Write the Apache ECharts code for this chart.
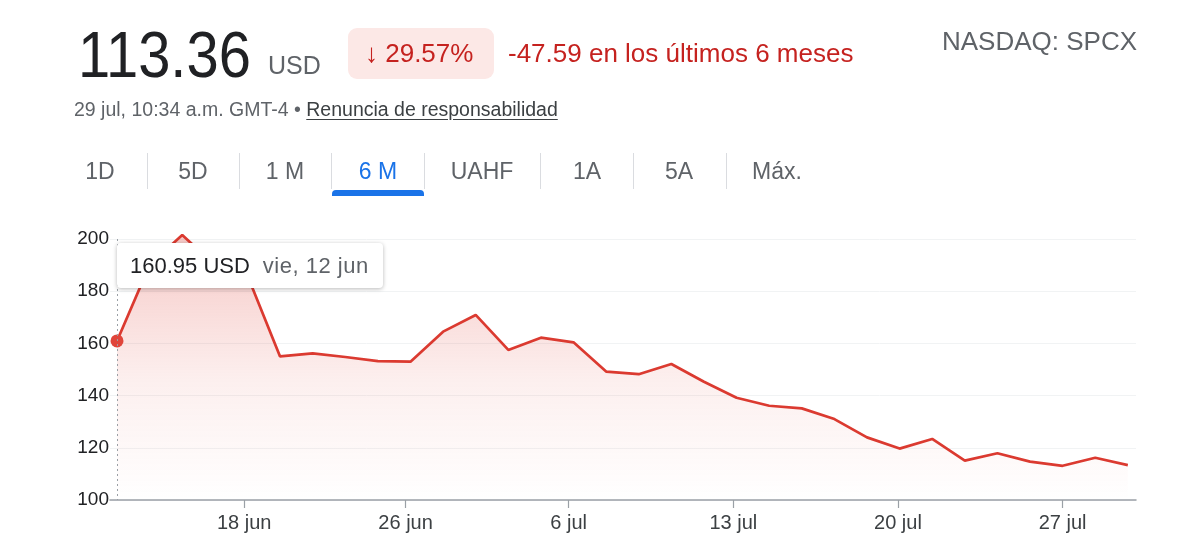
<!DOCTYPE html>
<html>
<head>
<meta charset="utf-8">
<script src="https://cdn.jsdelivr.net/npm/echarts@6/dist/echarts.min.js"></script>
<style>
  html, body { margin:0; padding:0; background:#fff; }
  body { width:1200px; height:560px; position:relative; overflow:hidden; font-family:"Liberation Sans", Arial, sans-serif; }
  .abs { position:absolute; white-space:nowrap; }
  #price { left:78px; top:23px; font-size:64px; line-height:64px; color:#202124; transform:scaleX(0.905); transform-origin:left top; }
  #cur { left:268px; top:53px; font-size:25px; line-height:25px; color:#5f6368; }
  #pill { left:348px; top:28px; width:146px; height:51px; background:#fce8e6; border-radius:9px; }
  #pct { left:365px; top:40px; font-size:26px; line-height:26px; color:#c5221f; }
  #chg { left:508px; top:40px; font-size:26px; line-height:26px; color:#c5221f; }
  #sym { left:942px; top:28px; font-size:26px; line-height:26px; color:#5f6368; }
  #meta { left:74px; top:99px; font-size:19.5px; line-height:20px; color:#5f6368; }
  #meta u { color:#3c4043; text-underline-offset:3px; }
  .tab { top:159px; font-size:23px; line-height:24px; color:#5f6368; transform:translateX(-50%); }
  .tab.active { color:#1a73e8; }
  .sep { top:153px; width:1px; height:36px; background:#dadce0; }
  #uline { left:332px; top:190px; width:92px; height:6px; background:#1a73e8; border-radius:4px 4px 0 0; }
  #chart { position:absolute; left:0; top:0; width:1200px; height:560px; }
  #tip { position:absolute; box-sizing:border-box; width:266px; height:45px; background:#fff; border-radius:4px; box-shadow:0 1px 4px rgba(0,0,0,0.28); font-size:22px; line-height:23px; padding:11px 0 11px 13px; white-space:nowrap; color:#202124; }
  #tip span { color:#5f6368; margin-left:13px; letter-spacing:0.5px; }
</style>
</head>
<body>
<div id="chart"></div>
<div class="abs" id="price">113.36</div>
<div class="abs" id="cur">USD</div>
<div class="abs" id="pill"></div>
<div class="abs" id="pct">↓ 29.57%</div>
<div class="abs" id="chg">-47.59 en los últimos 6 meses</div>
<div class="abs" id="sym">NASDAQ: SPCX</div>
<div class="abs" id="meta">29 jul, 10:34 a.m. GMT-4 • <u>Renuncia de responsabilidad</u></div>
<div id="tabs"></div>
<div class="abs" id="uline"></div>
<div id="tip"></div>
<script>
// ---- data ----
var prices = [160.95, 190, 201.5, 190, 186, 155, 156.2, 154.8, 153.2, 153.0, 164.5, 170.9, 157.5, 162.2, 160.4, 149.2, 148.2, 152.1, 145.3, 139.2, 136.1, 135.1, 131.0, 124.0, 119.7, 123.4, 115.1, 117.9, 114.7, 113.1, 116.2, 113.36];
var xTickLabels = ['18 jun', '26 jun', '6 jul', '13 jul', '20 jul', '27 jul'];
var xTickIndex = [3.9, 8.85, 13.85, 18.9, 23.95, 29.0];
var yTicks = [100, 120, 140, 160, 180, 200];
var tabLabels = ['1D', '5D', '1 M', '6 M', 'UAHF', '1A', '5A', 'Máx.'];
var tipPrice = '160.95 USD';
var tipDate = 'vie, 12 jun';

// ---- tabs ----
var tabCenters = [100, 193, 285, 378, 482, 587, 679, 777];
var sepX = [147, 239, 331, 424, 540, 633, 726];
var tabsEl = document.getElementById('tabs');
tabLabels.forEach(function (t, i) {
  var d = document.createElement('div');
  d.className = 'abs tab' + (t === '6 M' ? ' active' : '');
  d.style.left = tabCenters[i] + 'px';
  d.textContent = t;
  tabsEl.appendChild(d);
});
sepX.forEach(function (x) {
  var s = document.createElement('div');
  s.className = 'abs sep';
  s.style.left = x + 'px';
  tabsEl.appendChild(s);
});

// ---- chart ----
var chart = echarts.init(document.getElementById('chart'), null, { renderer: 'canvas' });
var seriesData = prices.map(function (v, i) {
  if (i === 0) return { value: [i, v], symbol: 'circle', symbolSize: 13 };
  return [i, v];
});
var labelMap = {};
xTickIndex.forEach(function (v, i) { labelMap[v] = xTickLabels[i]; });

chart.setOption({
  animation: false,
  grid: { left: 110, right: 64, top: 239, bottom: 60 },
  xAxis: {
    type: 'value',
    min: -0.215,
    max: prices.length - 1 + 0.25,
    axisLine: { show: true, lineStyle: { color: '#9aa0a6', width: 1.5 } },
    axisTick: { show: true, customValues: xTickIndex, length: 8, lineStyle: { color: '#9aa0a6', width: 1.2 } },
    axisLabel: {
      customValues: xTickIndex,
      formatter: function (v) { return labelMap[v] || ''; },
      color: '#3c4043', fontSize: 20, margin: 13, fontFamily: 'Liberation Sans'
    },
    splitLine: { show: false }
  },
  yAxis: {
    type: 'value',
    min: yTicks[0],
    max: yTicks[yTicks.length - 1],
    interval: 20,
    axisLine: { show: false },
    axisTick: { show: false },
    axisLabel: { color: '#202124', fontSize: 19, margin: 1, fontFamily: 'Liberation Sans' },
    splitLine: { show: true, lineStyle: { color: '#f1f3f4', width: 1 } }
  },
  series: [{
    type: 'line',
    data: seriesData,
    symbol: 'none',
    showSymbol: true,
    clip: false,
    lineStyle: { color: '#db3a30', width: 2.7 },
    itemStyle: { color: '#e0453b' },
    areaStyle: {
      color: new echarts.graphic.LinearGradient(0, 0, 0, 1, [
        { offset: 0, color: 'rgba(224,70,60,0.42)' },
        { offset: 0.55, color: 'rgba(224,70,60,0.12)' },
        { offset: 1, color: 'rgba(224,70,60,0.0)' }
      ])
    },
    markLine: {
      silent: true,
      symbol: ['none', 'none'],
      label: { show: false },
      lineStyle: { color: '#9aa0a6', type: [2, 3], width: 1 },
      data: [[{ coord: [0, yTicks[yTicks.length - 1]] }, { coord: [0, yTicks[0]] }]]
    }
  }]
});

// tooltip box anchored to the first data point
var p = chart.convertToPixel({ gridIndex: 0 }, [0, prices[0]]);
var topPx = chart.convertToPixel({ gridIndex: 0 }, [0, yTicks[yTicks.length - 1]])[1];
var tip = document.getElementById('tip');
tip.innerHTML = tipPrice + '<span>' + tipDate + '</span>';
tip.style.left = p[0] + 'px';
tip.style.top = (topPx + 4) + 'px';
</script>
</body>
</html>
